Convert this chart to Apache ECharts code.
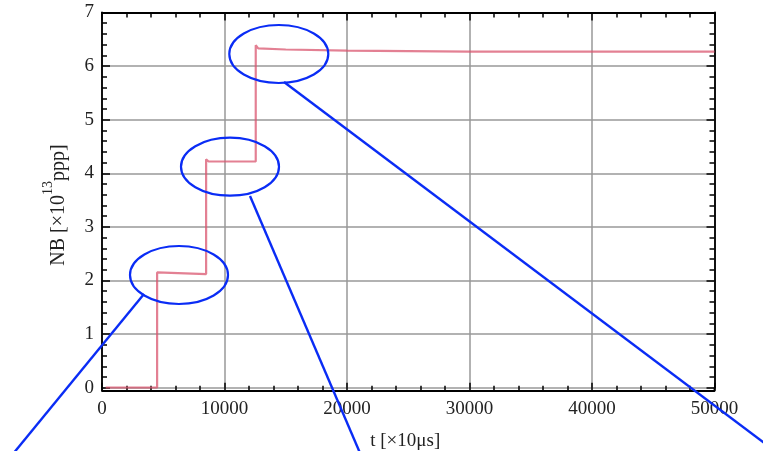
<!DOCTYPE html>
<html><head><meta charset="utf-8">
<script src="https://cdn.jsdelivr.net/npm/echarts@6/dist/echarts.min.js"></script>
<style>html,body{margin:0;padding:0;background:#fff}#c{width:763px;height:451px}</style>
</head><body><div id="c"></div>
<script>
// data
var tValues = [300, 4500, 4500, 4650, 8500, 8500, 8700, 12550, 12550, 12750, 15000, 20000, 25000, 30000, 40000, 50000];
var nbValues = [0, 0, 2.15, 2.12, 2.12, 4.26, 4.22, 4.22, 6.39, 6.33, 6.31, 6.29, 6.28, 6.27, 6.27, 6.27];
var xTicks = [0, 10000, 20000, 30000, 40000, 50000];
var yTicks = [0, 1, 2, 3, 4, 5, 6, 7];

var points = tValues.map(function (t, i) { return [t, nbValues[i]]; });
var chart = echarts.init(document.getElementById('c'));
var serif = '"Liberation Serif", "DejaVu Serif", serif';
var tickStyle = {color: '#000', width: 1.5};
var common = {
  min: 0, axisLine: {show: true, onZero: false, lineStyle: {color: '#000', width: 1.8}},
  axisTick: {show: true, inside: true, length: 8, lineStyle: tickStyle},
  minorTick: {show: true, splitNumber: 5, length: 5, lineStyle: tickStyle}
};
function ax(o) { return Object.assign({}, JSON.parse(JSON.stringify(common)), o); }

chart.setOption({
  animation: false,
  grid: {left: 102, right: 48.5, top: 12.5, bottom: 63.3, containLabel: false, outerBoundsMode: 'none'},
  xAxis: [
    ax({type: 'value', position: 'bottom', offset: 3, max: xTicks[xTicks.length - 1], interval: 10000,
      axisLabel: {color: '#222', fontFamily: serif, fontSize: 19, margin: 9, formatter: function (v) { return String(v); }},
      splitLine: {show: true, lineStyle: {color: '#999', width: 1.5}},
      name: 't [×10μs]', nameLocation: 'middle', nameGap: 41,
      nameTextStyle: {color: '#222', fontFamily: serif, fontSize: 19, padding: [0, 6, 0, 0]}}),
    ax({type: 'value', position: 'top', max: xTicks[xTicks.length - 1], interval: 10000,
      axisLabel: {show: false}, splitLine: {show: false}})
  ],
  yAxis: [
    ax({type: 'value', position: 'left', max: yTicks[yTicks.length - 1], interval: 1,
      axisLabel: {color: '#222', fontFamily: serif, fontSize: 19, margin: 8},
      splitLine: {show: true, lineStyle: {color: '#999', width: 1.5}},
      name: '{a|NB [×10}{s|13}{a|ppp]}', nameLocation: 'middle', nameRotate: 90, nameGap: 33,
      nameTextStyle: {color: '#222', fontFamily: serif, padding: [0, 10, 0, 0],
        rich: {a: {fontFamily: serif, fontSize: 20, color: '#222', lineHeight: 28, verticalAlign: 'bottom'},
               s: {fontFamily: serif, fontSize: 14, color: '#222', lineHeight: 28, verticalAlign: 'top'}}}}),
    ax({type: 'value', position: 'right', max: yTicks[yTicks.length - 1], interval: 1,
      axisLabel: {show: false}, splitLine: {show: false}})
  ],
  series: [{
    type: 'line', data: points, showSymbol: false, symbol: 'none',
    lineStyle: {color: '#d9566f', width: 2.2, opacity: 0.75}, z: 5
  }]
});

var o = chart.convertToPixel({gridIndex: 0}, [0, 0]);
var e = chart.convertToPixel({gridIndex: 0}, [50000, 0]);
var blue = '#0a2cf5';
chart.setOption({
  graphic: [
    {type: 'line', shape: {x1: o[0], y1: o[1], x2: o[0], y2: o[1] + 3}, style: {stroke: '#000', lineWidth: 1.8}},
    {type: 'line', shape: {x1: e[0], y1: e[1], x2: e[0], y2: e[1] + 3}, style: {stroke: '#000', lineWidth: 1.8}},
    {type: 'ellipse', shape: {cx: 179, cy: 275, rx: 49, ry: 29}, style: {fill: 'none', stroke: blue, lineWidth: 2.2}, z: 100},
    {type: 'ellipse', shape: {cx: 230, cy: 166.7, rx: 49, ry: 29}, style: {fill: 'none', stroke: blue, lineWidth: 2.2}, z: 100},
    {type: 'ellipse', shape: {cx: 278.8, cy: 54, rx: 49.5, ry: 29}, style: {fill: 'none', stroke: blue, lineWidth: 2.2}, z: 100},
    {type: 'line', shape: {x1: 144, y1: 294, x2: 8, y2: 460}, style: {stroke: blue, lineWidth: 2.4}, z: 100},
    {type: 'line', shape: {x1: 250, y1: 196, x2: 363, y2: 460}, style: {stroke: blue, lineWidth: 2.4}, z: 100},
    {type: 'line', shape: {x1: 284, y1: 82, x2: 787, y2: 460}, style: {stroke: blue, lineWidth: 2.4}, z: 100}
  ]
});
</script></body></html>
